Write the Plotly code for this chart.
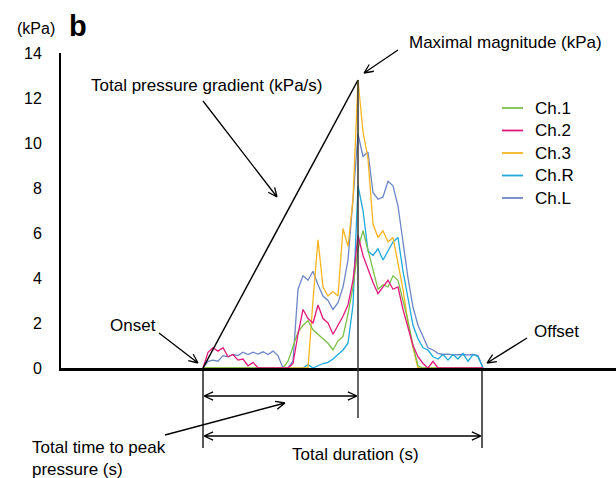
import math
import plotly.graph_objects as go

# ---------------- data ----------------
time_s = [14.2, 14.7, 15.2, 15.7, 16.2, 16.7, 17.2, 17.7, 18.2, 18.7,
          19.2, 19.7, 20.2, 20.7, 21.2, 21.7, 22.2, 22.7, 23.2, 23.7,
          24.2, 24.7, 25.2, 25.7, 26.2, 26.7, 27.2, 27.7, 28.2, 28.7,
          29.2, 29.7, 30.2, 30.7, 31.2, 31.7, 32.2, 32.7, 33.2, 33.7,
          34.2, 34.7, 35.2, 35.7, 36.2, 36.7, 37.2, 37.7, 38.2, 38.7,
          39.2, 39.7, 40.2, 40.7, 41.2, 41.7, 42.2]

ch_1 = [0, 0, 0, 0, 0, 0, 0, 0, 0, 0,
        0, 0, 0, 0, 0, 0, 0, 0.3, 1.0, 1.6,
        1.9, 2.1, 1.7, 1.5, 1.3, 1.1, 0.8, 1.2, 1.4, 2.4,
        3.6, 5.3, 6.1, 5.2, 4.3, 3.5, 3.7, 3.6, 4.1, 3.9,
        3.0, 2.1, 1.0, 0.1, 0, 0, 0, 0, 0, 0,
        0, 0, 0, 0, 0, 0, 0]

ch_2 = [0.0, 0.7, 0.9, 0.75, 0.9, 0.5, 0.6, 0.35, 0.4, 0.1,
        0.25, 0, 0, 0, 0, 0, 0, 0, 0.2, 1.5,
        2.6, 2.2, 2.0, 2.8, 2.2, 2.0, 1.5, 1.9, 2.3, 2.8,
        3.9, 5.9, 5.0, 4.4, 3.8, 3.3, 3.6, 3.9, 3.5, 3.6,
        2.6, 1.8, 1.0, 0.5, 0.2, 0, 0.3, 0, 0, 0,
        0, 0, 0, 0, 0, 0, 0]

ch_3 = [0, 0, 0, 0, 0, 0, 0, 0, 0, 0,
        0, 0, 0, 0, 0, 0, 0, 0, 0, 0,
        0, 0, 3.0, 5.7, 3.6, 3.2, 3.4, 3.2, 6.2, 5.4,
        7.5, 12.8, 10.5, 9.3, 6.4, 5.8, 6.1, 5.6, 5.8, 4.6,
        3.5, 2.0, 0.9, 0, 0, 0, 0, 0, 0, 0,
        0, 0, 0, 0, 0, 0, 0]

ch_R = [0, 0, 0, 0, 0, 0, 0, 0, 0, 0,
        0, 0, 0, 0, 0, 0, 0, 0, 0, 0,
        0, 0.15, 0.0, 0.1, 0.2, 0.25, 0.4, 0.6, 0.8, 1.1,
        2.8, 8.1, 7.0, 5.2, 5.0, 5.3, 4.8, 5.2, 5.6, 5.8,
        4.3, 3.1, 1.9, 1.3, 0.9, 0.8, 0.5, 0.4, 0.6, 0.35,
        0.6, 0.4, 0.65, 0.3, 0.6, 0.5, 0.0]

ch_L = [0.0, 0.3, 0.35, 0.3, 0.55, 0.5, 0.6, 0.55, 0.7, 0.6,
        0.7, 0.62, 0.72, 0.6, 0.75, 0.55, 0.0, 0.0, 0.3, 3.5,
        4.1, 3.9, 4.3, 3.7, 3.2, 3.0, 2.6, 2.9, 3.6, 4.8,
        7.5, 10.4, 9.4, 9.6, 7.8, 7.5, 7.6, 8.3, 8.1, 7.2,
        5.6, 4.0, 2.7, 1.9, 1.4, 0.9, 0.8, 0.65, 0.6, 0.62,
        0.58, 0.6, 0.6, 0.58, 0.6, 0.55, 0.0]

series_names = ["Ch.1", "Ch.2", "Ch.3", "Ch.R", "Ch.L"]
series_values = [ch_1, ch_2, ch_3, ch_R, ch_L]
series_colors = ["#7cc04b", "#e2197c", "#f8b41e", "#1da9da", "#6d86c7"]
draw_order = [4, 3, 2, 0, 1]

onset_time = 14.2
offset_time = 42.1
y_ticks = [0, 2, 4, 6, 8, 10, 12, 14]

# ---------------- layout geometry ----------------
W, H = 616, 478
ML, MR, MT, MB = 61, 0, 53, 110
PW, PH = W - ML - MR, H - MT - MB
X_RANGE = [0, 55.5]
Y_RANGE = [0, 14]
FONT = "Liberation Sans, Arial, sans-serif"
TXT = 17


def d2px(t, v):
    px = ML + (t - X_RANGE[0]) / (X_RANGE[1] - X_RANGE[0]) * PW
    py = MT + (1 - (v - Y_RANGE[0]) / (Y_RANGE[1] - Y_RANGE[0])) * PH
    return px, py


def p2paper(px, py):
    return (px - ML) / PW, (MT + PH - py) / PH


def pstr(pt):
    x, y = p2paper(*pt)
    return f"{x:.5f},{y:.5f}"


def line_shape(a, b, width=1.3, color="black"):
    return dict(type="path", path=f"M{pstr(a)} L{pstr(b)}", xref="paper", yref="paper",
                line=dict(color=color, width=width))


def arrow_shape(tail, tip, both=False, L=10, ang=24, width=1.3):
    path = f"M{pstr(tail)} L{pstr(tip)}"
    ends = [(tip, tail)] + ([(tail, tip)] if both else [])
    for end, other in ends:
        dx, dy = other[0] - end[0], other[1] - end[1]
        n = math.hypot(dx, dy)
        ux, uy = dx / n, dy / n
        for s in (1, -1):
            a = math.radians(ang * s)
            rx = ux * math.cos(a) - uy * math.sin(a)
            ry = ux * math.sin(a) + uy * math.cos(a)
            hp = (end[0] + L * rx, end[1] + L * ry)
            path += f" M{pstr(end)} L{pstr(hp)}"
    return dict(type="path", path=path, xref="paper", yref="paper",
                line=dict(color="black", width=width))


def text_ann(txt, px, py, size=TXT, xanchor="center", bold=False, align="center", yanchor="middle"):
    x, y = p2paper(px, py)
    return dict(text=f"<b>{txt}</b>" if bold else txt, x=x, y=y, xref="paper", yref="paper",
                xanchor=xanchor, yanchor=yanchor, showarrow=False, align=align,
                font=dict(family=FONT, size=size, color="black"))


fig = go.Figure()
for k in draw_order:
    fig.add_trace(go.Scatter(x=time_s, y=series_values[k], mode="lines", name=series_names[k],
                             line=dict(color=series_colors[k], width=1.3), showlegend=False))

# key points derived from data
peak_idx = max(range(len(ch_3)), key=lambda i: ch_3[i])
peak_t, peak_v = time_s[peak_idx], ch_3[peak_idx]
onset_px, base_py = d2px(onset_time, 0)
peak_px, peak_py = d2px(peak_t, peak_v)
offset_px, _ = d2px(offset_time, 0)

shapes = []
shapes.append(line_shape((onset_px, base_py), (peak_px, peak_py), width=1.5))
shapes.append(line_shape((peak_px, peak_py), (peak_px, base_py + 50), width=1.5, color="#333333"))
shapes.append(line_shape((onset_px, base_py), (onset_px, base_py + 80)))
shapes.append(line_shape((offset_px, base_py), (offset_px, base_py + 80)))
shapes.append(arrow_shape((peak_px - 1, base_py + 28), (onset_px + 1, base_py + 28), both=True))
shapes.append(arrow_shape((offset_px - 1, base_py + 68), (onset_px + 1, base_py + 68), both=True))
shapes.append(arrow_shape((159, 333), (onset_px - 5, base_py - 5)))
shapes.append(arrow_shape((527, 338), (offset_px + 5, base_py - 5)))
shapes.append(arrow_shape((398, 50), (peak_px + 6, peak_py - 7)))
shapes.append(arrow_shape((203, 101), (277, 197)))
shapes.append(arrow_shape((165, 435), (285, 403)))

anns = []
anns.append(text_ann("(kPa)", 36, 28, size=16))
anns.append(text_ann("b", 78, 26, size=29, bold=True))
anns.append(text_ann("Total pressure gradient (kPa/s)", 207, 85))
anns.append(text_ann("Maximal magnitude (kPa)", 505, 43))
anns.append(text_ann("Onset", 133, 325))
anns.append(text_ann("Offset", 556, 331))
anns.append(text_ann("Total duration (s)", 355, 455))
anns.append(text_ann("Total time to peak<br>pressure (s)", 30, 459, xanchor="left", align="left"))

# manual legend
for k, name in enumerate(series_names):
    ly = 108 + 22.5 * k
    shapes.append(line_shape((502, ly), (523, ly), width=1.8, color=series_colors[k]))
    anns.append(text_ann(name, 533, ly, xanchor="left"))

fig.update_layout(
    width=W, height=H,
    margin=dict(l=ML, r=MR, t=MT, b=MB, pad=0),
    paper_bgcolor="white", plot_bgcolor="white",
    font=dict(family=FONT, size=16, color="black"),
    shapes=shapes, annotations=anns,
    xaxis=dict(range=X_RANGE, showline=True, linewidth=3, linecolor="black",
               showticklabels=False, ticks="", showgrid=False, zeroline=False, fixedrange=True),
    yaxis=dict(range=Y_RANGE, showline=True, linewidth=2, linecolor="black",
               tickvals=y_ticks, ticktext=[str(v) for v in y_ticks],
               ticks="outside", ticklen=14, tickcolor="rgba(0,0,0,0)",
               showgrid=False, zeroline=False, automargin=False,
               tickfont=dict(family=FONT, size=16, color="black"), fixedrange=True),
    showlegend=False,
)

fig.write_html("out.html")
